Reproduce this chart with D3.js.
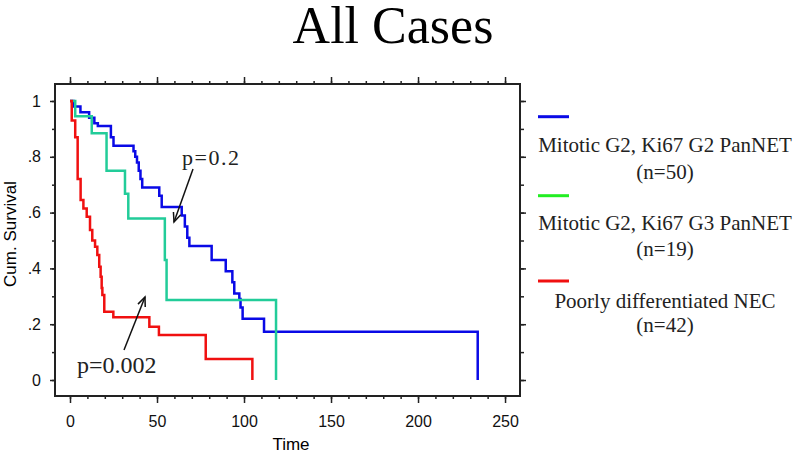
<!doctype html>
<html lang="en">
<head>
<meta charset="utf-8">
<script src="https://d3js.org/d3.v7.min.js"></script>
<style>
  body { margin: 0; background: #fff; }
  svg { display: block; }
</style>
<title>All Cases</title>
</head>
<body>
<div id="chart"></div>
<script>
// survival data: [time, cum. survival]
var blueSteps = [[0,1],[2,0.98],[6,0.96],[11,0.94],[14,0.92],[16,0.91],[23.5,0.87],[25,0.84],
  [36.5,0.82],[37.5,0.80],[38.5,0.78],[39.5,0.75],[40.5,0.72],[41.5,0.69],[51.3,0.66],[52.7,0.62],
  [64.2,0.59],[66,0.55],[67.4,0.51],[68.6,0.48],[81.4,0.43],[89.5,0.39],[93.3,0.35],[94.4,0.31],
  [97.3,0.29],[98,0.26],[99.2,0.22],[111.5,0.173],[234.3,0]];
var greenSteps = [[0,1],[3,0.945],[12.5,0.884],[21,0.75],[31.6,0.668],[33.5,0.579],[54.5,0.43],
  [55.5,0.287],[118.4,0]];
var redSteps = [[0,1],[1,0.93],[3,0.87],[4.4,0.72],[6.1,0.645],[7.7,0.615],[9.6,0.585],[11.5,0.538],
  [12.8,0.50],[14.4,0.478],[15.7,0.448],[16.8,0.406],[17.6,0.37],[18.2,0.33],[18.6,0.305],
  [19.7,0.245],[24.9,0.225],[45.6,0.191],[51.1,0.161],[78,0.075],[104.8,0]];

var xTicks = [0, 50, 100, 150, 200, 250];
var xMinor = d3.range(0, 251, 10);
var yTicks = [0, 0.2, 0.4, 0.6, 0.8, 1];
var yLabels = ["0", ".2", ".4", ".6", ".8", "1"];
var yMinor = d3.range(0, 1.01, 0.1);

var legendNames = [["Mitotic G2, Ki67 G2 PanNET", "(n=50)"],
                   ["Mitotic G2, Ki67 G3 PanNET", "(n=19)"],
                   ["Poorly differentiated NEC", "(n=42)"]];

var width = 800, height = 455;
var plot = {left: 55, right: 520, top: 84, bottom: 396};

var svg = d3.select("#chart").append("svg")
  .attr("width", width)
  .attr("height", height);

var x = d3.scaleLinear().domain([-8.62, 258.6]).range([plot.left, plot.right]);
var y = d3.scaleLinear().domain([-0.0573, 1.0609]).range([plot.bottom, plot.top]);

// title
svg.append("text")
  .attr("x", 393).attr("y", 43)
  .attr("text-anchor", "middle")
  .style("font-family", "'Liberation Serif', 'Times New Roman', serif")
  .style("font-size", "52px")
  .text("All Cases");

// axes with ticks on all four sides
function styleAxis(g) {
  g.select(".domain").remove();
  g.selectAll("line").attr("stroke", "#222").attr("stroke-width", 1.5);
  g.selectAll("text")
    .style("font-family", "Arial, 'Liberation Sans', sans-serif")
    .style("font-size", "16px")
    .attr("fill", "#111");
}

svg.append("g")
  .attr("transform", "translate(0," + plot.bottom + ")")
  .call(d3.axisBottom(x).tickValues(xMinor).tickSize(3).tickFormat(""))
  .call(styleAxis);
var xb = svg.append("g")
  .attr("transform", "translate(0," + plot.bottom + ")")
  .call(d3.axisBottom(x).tickValues(xTicks).tickSize(7).tickFormat(d3.format("d")))
  .call(styleAxis);
xb.selectAll("text").attr("y", 20).attr("dy", "0.71em");

svg.append("g")
  .attr("transform", "translate(0," + plot.top + ")")
  .call(d3.axisTop(x).tickValues(xMinor).tickSize(3).tickFormat(""))
  .call(styleAxis);
svg.append("g")
  .attr("transform", "translate(0," + plot.top + ")")
  .call(d3.axisTop(x).tickValues(xTicks).tickSize(7).tickFormat(""))
  .call(styleAxis);

svg.append("g")
  .attr("transform", "translate(" + plot.left + ",0)")
  .call(d3.axisLeft(y).tickValues(yMinor).tickSize(3).tickFormat(""))
  .call(styleAxis);
var yl = svg.append("g")
  .attr("transform", "translate(" + plot.left + ",0)")
  .call(d3.axisLeft(y).tickValues(yTicks).tickSize(5)
    .tickFormat(function(d, i) { return yLabels[i]; }))
  .call(styleAxis);
yl.selectAll("text").attr("x", -14);

svg.append("g")
  .attr("transform", "translate(" + plot.right + ",0)")
  .call(d3.axisRight(y).tickValues(yMinor).tickSize(4).tickFormat(""))
  .call(styleAxis);
svg.append("g")
  .attr("transform", "translate(" + plot.right + ",0)")
  .call(d3.axisRight(y).tickValues(yTicks).tickSize(6).tickFormat(""))
  .call(styleAxis);

// frame
svg.append("rect")
  .attr("x", plot.left).attr("y", plot.top)
  .attr("width", plot.right - plot.left)
  .attr("height", plot.bottom - plot.top)
  .attr("fill", "none")
  .attr("stroke", "#222")
  .attr("stroke-width", 2);

// axis titles
svg.append("text")
  .attr("x", 291).attr("y", 450)
  .attr("text-anchor", "middle")
  .style("font-family", "Arial, 'Liberation Sans', sans-serif")
  .style("font-size", "17px")
  .text("Time");

svg.append("text")
  .attr("transform", "translate(16,234) rotate(-90)")
  .attr("text-anchor", "middle")
  .style("font-family", "Arial, 'Liberation Sans', sans-serif")
  .style("font-size", "17px")
  .text("Cum. Survival");

// survival curves
var line = d3.line()
  .x(function(d) { return x(d[0]); })
  .y(function(d) { return y(d[1]); })
  .curve(d3.curveStepAfter);

var curves = [
  {data: blueSteps, color: "#0a0ae6"},
  {data: greenSteps, color: "#22cc99"},
  {data: redSteps, color: "#f01010"}
];
curves.forEach(function(c) {
  svg.append("path")
    .datum(c.data)
    .attr("d", line)
    .attr("fill", "none")
    .attr("stroke", c.color)
    .attr("stroke-width", 2.5)
    .attr("stroke-linejoin", "miter");
});

// p-value annotations with arrows
function arrow(x1, y1, x2, y2) {
  svg.append("line")
    .attr("x1", x1).attr("y1", y1).attr("x2", x2).attr("y2", y2)
    .attr("stroke", "#111").attr("stroke-width", 1.5);
  var a = Math.atan2(y2 - y1, x2 - x1), len = 10, spread = 0.4;
  svg.append("path")
    .attr("d", "M" + (x2 - len * Math.cos(a - spread)) + "," + (y2 - len * Math.sin(a - spread)) +
      "L" + x2 + "," + y2 +
      "L" + (x2 - len * Math.cos(a + spread)) + "," + (y2 - len * Math.sin(a + spread)))
    .attr("fill", "none").attr("stroke", "#111").attr("stroke-width", 1.5);
}

svg.append("text")
  .attr("x", 182).attr("y", 165)
  .style("font-family", "'Liberation Serif', 'Times New Roman', serif")
  .style("font-size", "22px")
  .style("letter-spacing", "1.5px")
  .attr("fill", "#222")
  .text("p=0.2");
arrow(193, 169, 174, 222);

svg.append("text")
  .attr("x", 77).attr("y", 373)
  .style("font-family", "'Liberation Serif', 'Times New Roman', serif")
  .style("font-size", "24px")
  .attr("fill", "#222")
  .text("p=0.002");
arrow(124, 350, 145, 297);

// legend
var legendColors = ["#0a0ae6", "#22ee22", "#f01010"];
var legendLineY = [116.7, 195.7, 281];
var legendTextY = [[151.7, 179], [230, 256], [308, 332]];
legendNames.forEach(function(n, i) {
  svg.append("line")
    .attr("x1", 538).attr("x2", 569)
    .attr("y1", legendLineY[i]).attr("y2", legendLineY[i])
    .attr("stroke", legendColors[i]).attr("stroke-width", 3);
  n.forEach(function(t, j) {
    svg.append("text")
      .attr("x", 665).attr("y", legendTextY[i][j])
      .attr("text-anchor", "middle")
      .style("font-family", "'Liberation Serif', 'Times New Roman', serif")
      .style("font-size", "21px")
      .attr("fill", "#222")
      .text(t);
  });
});
</script>
</body>
</html>
